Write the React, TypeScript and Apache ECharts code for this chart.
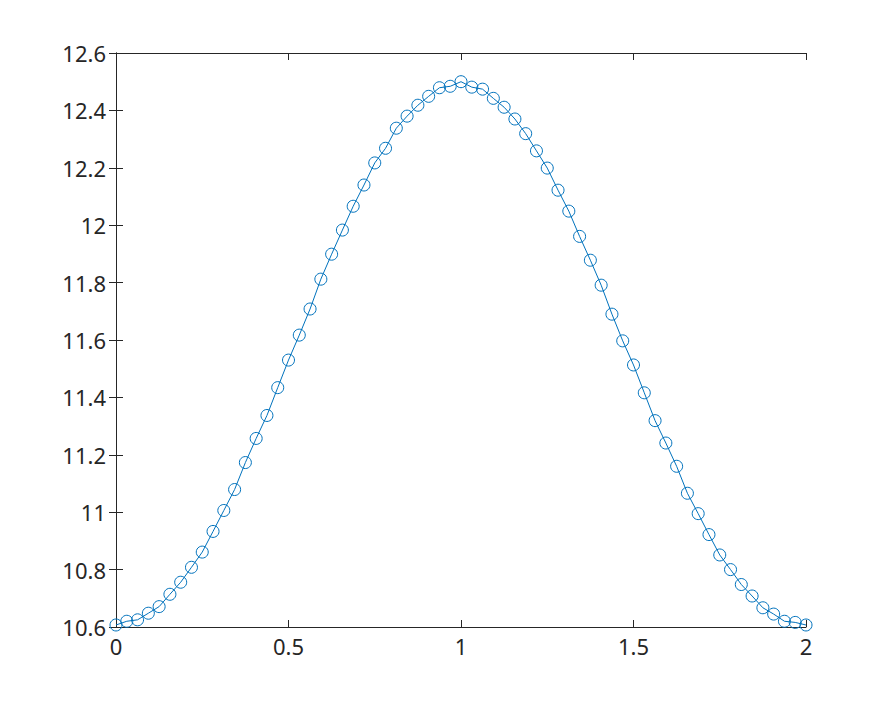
import React, { useEffect, useRef } from "react";
import * as echarts from "echarts";

const xValues = [
  0, 0.03125, 0.0625, 0.09375, 0.125, 0.15625, 0.1875, 0.21875, 0.25, 0.28125,
  0.3125, 0.34375, 0.375, 0.40625, 0.4375, 0.46875, 0.5, 0.53125, 0.5625, 0.59375,
  0.625, 0.65625, 0.6875, 0.71875, 0.75, 0.78125, 0.8125, 0.84375, 0.875, 0.90625,
  0.9375, 0.96875, 1, 1.03125, 1.0625, 1.09375, 1.125, 1.15625, 1.1875, 1.21875,
  1.25, 1.28125, 1.3125, 1.34375, 1.375, 1.40625, 1.4375, 1.46875, 1.5, 1.53125,
  1.5625, 1.59375, 1.625, 1.65625, 1.6875, 1.71875, 1.75, 1.78125, 1.8125, 1.84375,
  1.875, 1.90625, 1.9375, 1.96875, 2,
];

const yValues = [
  10.607, 10.62, 10.625, 10.648, 10.671, 10.714, 10.756, 10.808, 10.861, 10.933,
  11.006, 11.079, 11.173, 11.257, 11.337, 11.434, 11.53, 11.617, 11.708, 11.812,
  11.899, 11.983, 12.066, 12.14, 12.217, 12.268, 12.338, 12.38, 12.418, 12.449,
  12.479, 12.484, 12.5, 12.481, 12.474, 12.442, 12.411, 12.37, 12.319, 12.259,
  12.199, 12.122, 12.049, 11.961, 11.878, 11.791, 11.69, 11.597, 11.513, 11.416,
  11.319, 11.241, 11.16, 11.066, 10.995, 10.922, 10.851, 10.8, 10.748, 10.708,
  10.667, 10.645, 10.62, 10.616, 10.607,
];

const xTicks = [0, 0.5, 1, 1.5, 2];
const yTicks = [10.6, 10.8, 11, 11.2, 11.4, 11.6, 11.8, 12, 12.2, 12.4, 12.6];

const axisColor = "#262626";
const lineColor = "#0072BD";

export default function App() {
  const ref = useRef<HTMLDivElement>(null);

  useEffect(() => {
    if (!ref.current) return;
    const chart = echarts.init(ref.current, undefined, { renderer: "svg" });
    const common = {
      axisLine: { show: true, lineStyle: { color: axisColor, width: 1 } },
      axisTick: { show: true, inside: true, length: 7, lineStyle: { color: axisColor, width: 1 } },
      splitLine: { show: false },
    };
    const labelStyle = {
      color: axisColor,
      fontSize: 22,
      fontFamily: "'Noto Sans', sans-serif",
    };
    chart.setOption({
      animation: false,
      backgroundColor: "#ffffff",
      grid: { left: 116, right: 85, top: 53, bottom: 76, containLabel: false },
      xAxis: [
        {
          type: "value",
          min: xTicks[0],
          max: xTicks[xTicks.length - 1],
          interval: 0.5,
          position: "bottom",
          ...common,
          axisLabel: { ...labelStyle, margin: 8, formatter: (v: number) => String(v) },
        },
        {
          type: "value",
          min: xTicks[0],
          max: xTicks[xTicks.length - 1],
          interval: 0.5,
          position: "top",
          ...common,
          axisLabel: { show: false },
        },
      ],
      yAxis: [
        {
          type: "value",
          min: yTicks[0],
          max: yTicks[yTicks.length - 1],
          interval: 0.2,
          position: "left",
          ...common,
          axisLabel: {
            ...labelStyle,
            margin: 10,
            customValues: yTicks,
            formatter: (v: number) => String(Math.round(v * 10) / 10),
          },
          axisTick: { ...common.axisTick, customValues: yTicks },
        },
        {
          type: "value",
          min: yTicks[0],
          max: yTicks[yTicks.length - 1],
          interval: 0.2,
          position: "right",
          ...common,
          axisLabel: { show: false, customValues: yTicks },
          axisTick: { ...common.axisTick, customValues: yTicks },
        },
      ],
      series: [
        {
          type: "line",
          xAxisIndex: 0,
          yAxisIndex: 0,
          data: xValues.map((x, i) => [x, yValues[i]]),
          symbol: "circle",
          symbolSize: 12,
          showAllSymbol: true,
          lineStyle: { color: lineColor, width: 1 },
          itemStyle: { color: "rgba(0,0,0,0)", borderColor: lineColor, borderWidth: 1 },
          clip: false,
        },
      ],
    });
    return () => chart.dispose();
  }, []);

  return (
    <div
      ref={ref}
      style={{ position: "absolute", left: 0, top: 0, width: 891, height: 703 }}
    />
  );
}
